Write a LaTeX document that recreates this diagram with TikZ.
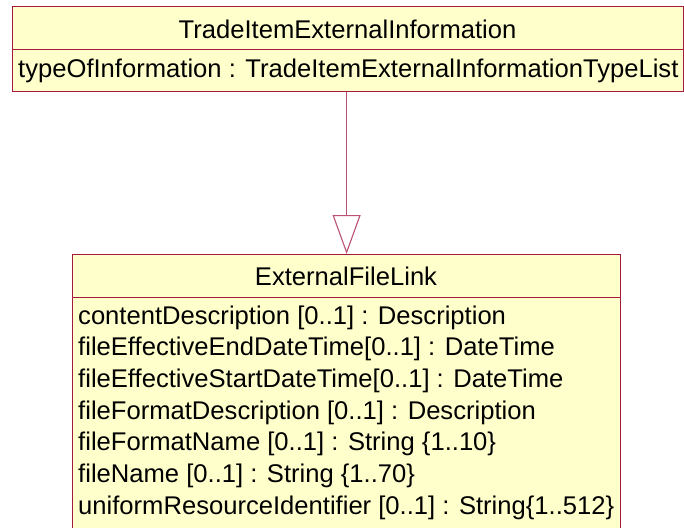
\documentclass[tikz,border=0pt]{standalone}
\usepackage{fontspec}
\setmainfont{Liberation Sans}
\usetikzlibrary{arrows.meta}
\definecolor{umlborder}{RGB}{165,25,65}
\definecolor{umlfill}{RGB}{255,255,204}
\tikzset{
  compart/.style={rectangle, draw=umlborder, fill=umlfill, line width=1.2pt, inner sep=0pt, anchor=north west},
  umltext/.style={inner sep=0pt, font=\fontsize{25.6}{30}\selectfont, text=black},
  gen/.style={draw=umlborder!75, line width=1.1pt, -{Triangle[open, length=39pt, width=28pt, fill=white]}}
}
\begin{document}
\begin{tikzpicture}[x=1pt,y=-1pt]
\useasboundingbox (0,0) rectangle (684,527);
\clip (0,0) rectangle (684,527);
% top class
\node[compart, minimum width=671pt, minimum height=43pt] (tophead) at (12,6) {};
\node[compart, minimum width=671pt, minimum height=42pt] (topbody) at (12,49) {};
\node[umltext, anchor=base] (topname) at (347.5,38.3) {TradeItemExternalInformation};
\node[umltext, anchor=base west] (topattr) at (18,77.5) {typeOfInformation : TradeItemExternalInformationTypeList};
% bottom class
\node[compart, minimum width=548pt, minimum height=43pt] (bothead) at (72,254) {};
\node[compart, minimum width=548pt, minimum height=240pt] (botbody) at (72,297) {};
\node[umltext, anchor=base] (botname) at (346,285) {ExternalFileLink};
\node[umltext, anchor=base west] (a1) at (78,324) {contentDescription [0..1] : Description};
\node[umltext, anchor=base west] (a2) at (78,355.7) {fileEffectiveEndDateTime[0..1] : DateTime};
\node[umltext, anchor=base west] (a3) at (78,387.3) {fileEffectiveStartDateTime[0..1] : DateTime};
\node[umltext, anchor=base west] (a4) at (78,419) {fileFormatDescription [0..1] : Description};
\node[umltext, anchor=base west] (a5) at (78,450.7) {fileFormatName [0..1] : String \{1..10\}};
\node[umltext, anchor=base west] (a6) at (78,482.3) {fileName [0..1] : String \{1..70\}};
\node[umltext, anchor=base west] (a7) at (78,514) {uniformResourceIdentifier [0..1] : String\{1..512\}};
% generalization
\draw[gen] (topbody.south -| bothead.north) -- (bothead.north);
\end{tikzpicture}
\end{document}
